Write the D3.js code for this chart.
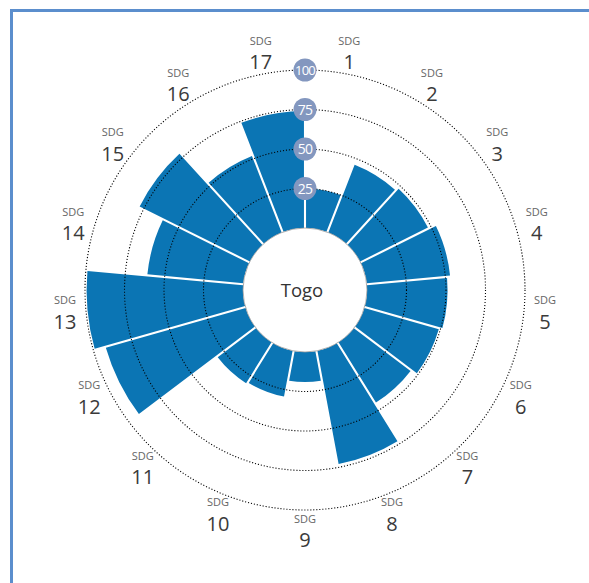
<!DOCTYPE html>
<html>
<head>
<meta charset="utf-8">
<script src="https://cdn.jsdelivr.net/npm/d3@7"></script>
<style>
  html, body { margin: 0; padding: 0; background: #fff; }
  svg { display: block; font-family: "Open Sans", "Noto Sans", sans-serif; }
</style>
</head>
<body>
<svg id="chart" width="589" height="583"></svg>
<script>
// SDG index scores for Togo, one per goal
const goals = ["1","2","3","4","5","6","7","8","9","10","11","12","13","14","15","16","17"];
const scores = [25, 46, 48, 53, 51, 49, 45, 73, 19, 29.5, 30.5, 92, 99, 61, 78, 52, 74];
const ringTicks = [25, 50, 75, 100];
const country = "Togo";

const cx = 305, cy = 290;
const innerR = 62, outerR = 220;

const svg = d3.select("#chart");

// outer frame (top and left rules)
svg.append("path")
  .attr("d", `M11.5,583 L11.5,10.5 L589,10.5`)
  .attr("fill", "none")
  .attr("stroke", "#5b8ecd")
  .attr("stroke-width", 3);

const g = svg.append("g").attr("transform", `translate(${cx},${cy})`);

const angle = d3.scaleBand().domain(goals).range([0, 2 * Math.PI]).padding(0);
const radius = d3.scaleLinear().domain([0, 100]).range([innerR, outerR]);

const data = goals.map((k, i) => ({ goal: k, value: scores[i] }));

const arc = d3.arc()
  .innerRadius(innerR)
  .outerRadius(d => radius(d.value))
  .startAngle(d => angle(d.goal))
  .endAngle(d => angle(d.goal) + angle.bandwidth())
  .padAngle(0.021)
  .padRadius(100);

g.append("g").selectAll("path")
  .data(data)
  .join("path")
  .attr("d", arc)
  .attr("fill", "#0b75b4");

// dotted reference rings
g.append("g").selectAll("circle")
  .data(ringTicks)
  .join("circle")
  .attr("r", d => radius(d))
  .attr("fill", "none")
  .attr("stroke", "#000")
  .attr("stroke-width", 1.1)
  .attr("stroke-dasharray", "1.1,1.9");

// centre disc with country name
g.append("circle")
  .attr("r", innerR)
  .attr("fill", "#fff")
  .attr("stroke", "#9a9a9a")
  .attr("stroke-width", 0.8);

g.append("text")
  .attr("x", -3)
  .attr("y", 7)
  .attr("text-anchor", "middle")
  .attr("font-size", 18.5)
  .attr("fill", "#333")
  .text(country);

// ring value badges on the vertical axis
const badge = g.append("g").selectAll("g")
  .data(ringTicks)
  .join("g")
  .attr("transform", d => `translate(0,${-radius(d)})`);
badge.append("circle")
  .attr("r", 11.5)
  .attr("fill", "#8397bf");
badge.append("text")
  .attr("text-anchor", "middle")
  .attr("dy", "0.36em")
  .attr("font-size", d => d === 100 ? 13 : 14)
  .attr("letter-spacing", -0.7)
  .attr("fill", "#fff")
  .text(d => d);

// goal labels around the rim: small "SDG" over the goal number
const labelR = 241;
const lab = g.append("g").selectAll("g")
  .data(data)
  .join("g")
  .attr("transform", d => {
    const a = angle(d.goal) + angle.bandwidth() / 2;
    return `translate(${labelR * Math.sin(a)},${-labelR * Math.cos(a)})`;
  });
lab.append("text")
  .attr("text-anchor", "middle")
  .attr("y", -8.5)
  .attr("font-size", 11)
  .attr("fill", "#666")
  .text("SDG");
lab.append("text")
  .attr("text-anchor", "middle")
  .attr("y", 16.3)
  .attr("font-size", 20)
  .attr("fill", "#3a3a3a")
  .text(d => d.goal);
</script>
</body>
</html>
